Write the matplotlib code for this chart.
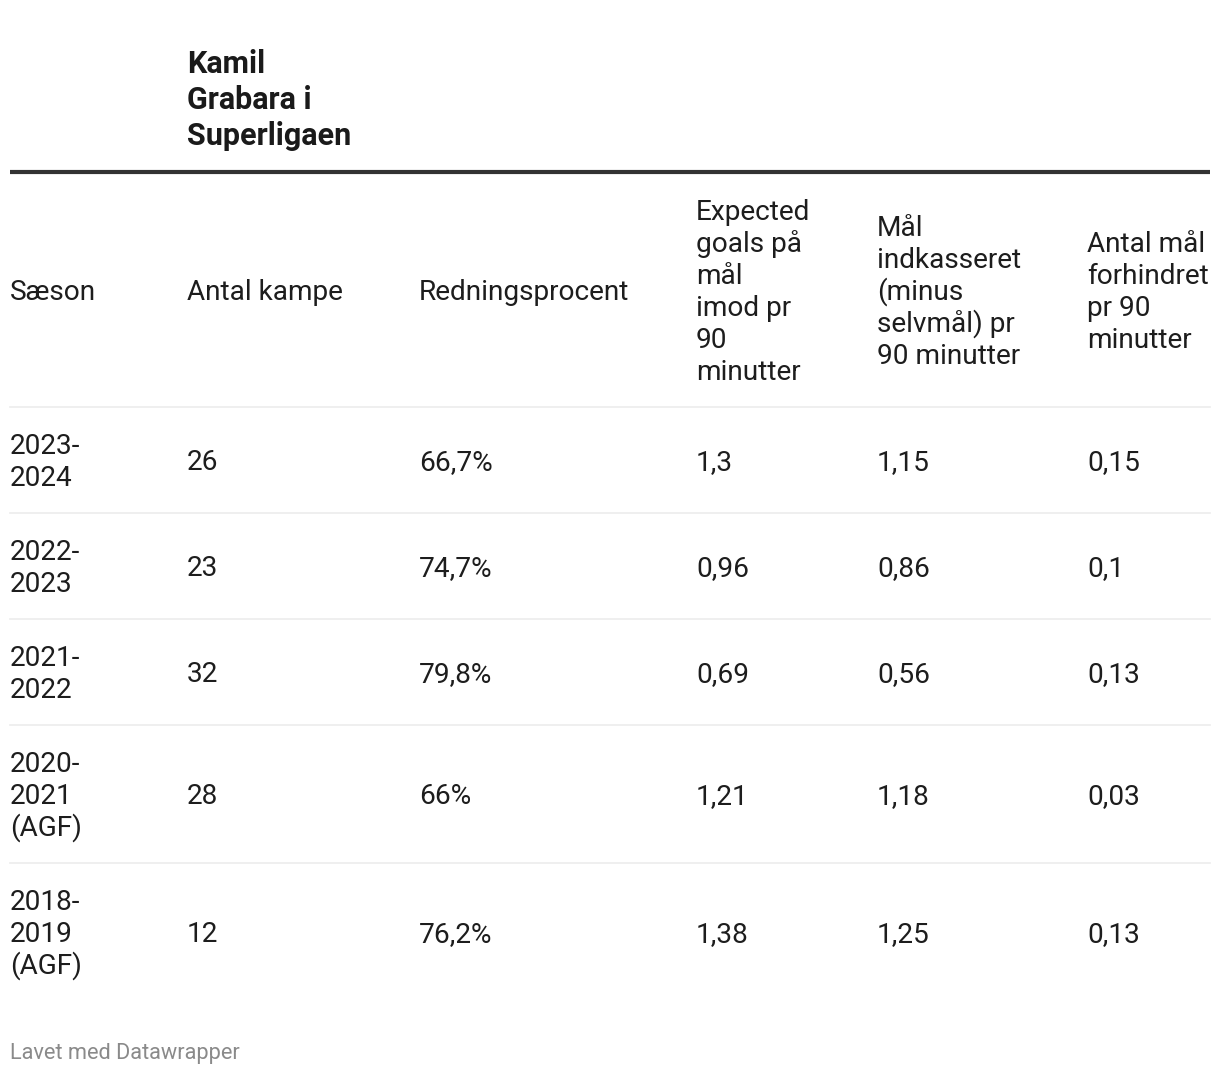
import matplotlib
matplotlib.use("Agg")
import matplotlib.pyplot as plt

# data
title = ["Kamil", "Grabara i", "Superligaen"]
headers = [
    ["Sæson"],
    ["Antal kampe"],
    ["Redningsprocent"],
    ["Expected", "goals på", "mål", "imod pr", "90", "minutter"],
    ["Mål", "indkasseret", "(minus", "selvmål) pr", "90 minutter"],
    ["Antal mål", "forhindret", "pr 90", "minutter"],
]
seasons = [
    ["2023-", "2024"],
    ["2022-", "2023"],
    ["2021-", "2022"],
    ["2020-", "2021", "(AGF)"],
    ["2018-", "2019", "(AGF)"],
]
kampe = [26, 23, 32, 28, 12]
redning = [66.7, 74.7, 79.8, 66, 76.2]
xg_imod = [1.3, 0.96, 0.69, 1.21, 1.38]
maal_ind = [1.15, 0.86, 0.56, 1.18, 1.25]
forhindret = [0.15, 0.1, 0.13, 0.03, 0.13]
footer = "Lavet med Datawrapper"


def dk(v):
    return f"{v:g}".replace(".", ",")


W, H = 1220, 1076
fig = plt.figure(figsize=(W / 100, H / 100), dpi=100)
ax = fig.add_axes([0, 0, 1, 1])
ax.set_xlim(0, W)
ax.set_ylim(H, 0)
ax.axis("off")

font = "Roboto"
fs = 20.2
lh = 32  # linjeafstand i pixels
col_x = [10, 187, 419, 696, 877, 1087]
txt_col = "#1d1d1d"


def lines_at(x, yc, lines, **kw):
    # skriv linjer centreret omkring yc
    n = len(lines)
    y0 = yc - (n - 1) * lh / 2
    for i, s in enumerate(lines):
        ax.text(x, y0 + i * lh + 9, s, ha="left", va="baseline",
                fontsize=fs, family=font, color=txt_col, **kw)


# titel
for i, s in enumerate(title):
    ax.text(187, 73 + i * 36, s, ha="left", va="baseline", fontsize=22,
            family=font, fontweight="bold", color="#1a1a1a")

# tyk linje
ax.plot([10, 1210], [172, 172], color="#333333", lw=3, solid_capstyle="butt")

# header
for x, h in zip(col_x, headers):
    lines_at(x, 291, h)

# rækker
y = 407
ax.plot([10, 1210], [y, y], color="#ececec", lw=1.2)
for i in range(len(seasons)):
    n = len(seasons[i])
    rh = 42 + 32 * n
    yc = y + rh / 2 + 1
    cells = [seasons[i], [str(kampe[i])], [dk(redning[i]) + "%"],
             [dk(xg_imod[i])], [dk(maal_ind[i])], [dk(forhindret[i])]]
    for x, c in zip(col_x, cells):
        lines_at(x, yc, c)
    y += rh
    if i < len(seasons) - 1:
        ax.plot([10, 1210], [y, y], color="#ececec", lw=1.2)

ax.text(10, 1059, footer, ha="left", va="baseline", fontsize=15.7,
        family=font, color="#8a8a8a")

fig.savefig("out.png", dpi=100, facecolor="white")
